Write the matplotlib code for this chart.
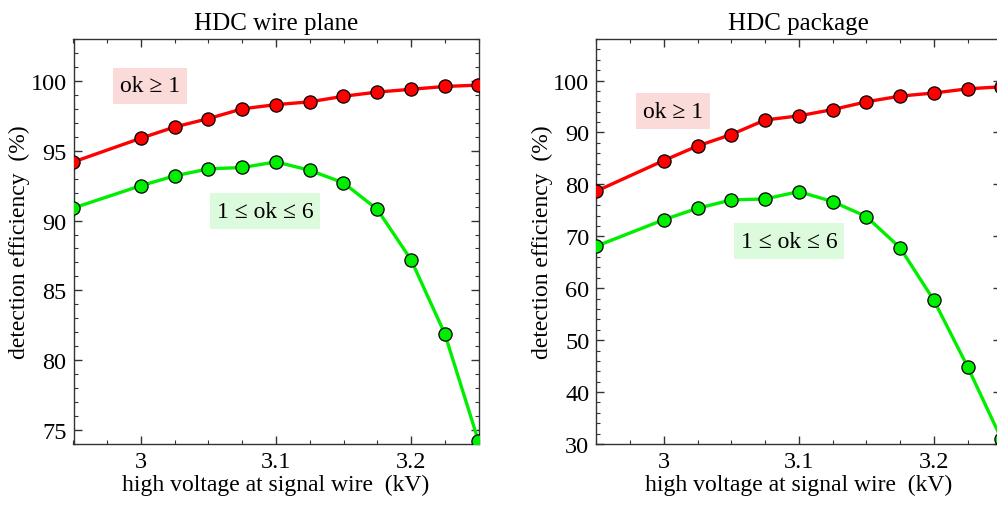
import numpy as np
import matplotlib.pyplot as plt
from matplotlib.ticker import MultipleLocator

plt.rcParams["font.family"] = ["Liberation Serif", "DejaVu Serif"]

label_fs = 17
tick_fs = 17.5
title_fs = 18
note_fs = 17

voltage = [2.95, 3.0, 3.025, 3.05, 3.075, 3.1, 3.125, 3.15, 3.175, 3.2, 3.225, 3.25]

plane_any = [94.2, 95.9, 96.7, 97.3, 98.0, 98.3, 98.5, 98.9, 99.2, 99.4, 99.6, 99.7]
plane_six = [90.9, 92.5, 93.2, 93.7, 93.8, 94.2, 93.6, 92.7, 90.8, 87.2, 81.9, 74.2]

package_any = [78.7, 84.6, 87.4, 89.6, 92.4, 93.2, 94.4, 95.9, 97.0, 97.6, 98.4, 98.8]
package_six = [68.1, 73.2, 75.4, 77.0, 77.2, 78.6, 76.7, 73.8, 67.8, 57.7, 44.9, 31.0]

red = "#ff0000"
green = "#00ee00"
pink_box = "#fbdada"
green_box = "#dcfadc"

W, H = 997, 506
fig = plt.figure(figsize=(W / 100, H / 100), dpi=100)

panels = [
    dict(title="HDC wire plane", rect=[73.5, 40, 405, 405], ylim=(74, 103),
         major=5, minor=1, any=plane_any, six=plane_six, ylab_x=30,
         note_any=(150, 87), note_six=(265, 212)),
    dict(title="HDC package", rect=[596.3, 40, 405, 405], ylim=(30, 108),
         major=10, minor=2, any=package_any, six=package_six, ylab_x=553,
         note_any=(673, 112), note_six=(789, 242)),
]

for p in panels:
    x0, y0, w, h = p["rect"]
    ax = fig.add_axes([x0 / W, (H - y0 - h) / H, w / W, h / H])

    ax.plot(voltage, p["any"], color=red, lw=2.4, marker="o", ms=9.5,
            mfc=red, mec="black", mew=0.9, zorder=3)
    ax.plot(voltage, p["six"], color=green, lw=2.4, marker="o", ms=9.5,
            mfc=green, mec="black", mew=0.9, zorder=3)

    ax.set_xlim(2.95, 3.25)
    ax.set_ylim(*p["ylim"])
    ax.xaxis.set_minor_locator(MultipleLocator(0.025))
    ax.yaxis.set_major_locator(MultipleLocator(p["major"]))
    ax.yaxis.set_minor_locator(MultipleLocator(p["minor"]))
    ax.set_xticks([3.0, 3.1, 3.2])
    ax.set_xticklabels(["3", "3.1", "3.2"])

    ax.tick_params(which="both", direction="in", top=True, right=True,
                   labelsize=tick_fs, color="#333333", pad=5)
    ax.tick_params(which="major", length=6, width=1.0)
    ax.tick_params(which="minor", length=3, width=0.8)
    for s in ax.spines.values():
        s.set_color("#333333")
        s.set_linewidth(1.0)

    ax.set_title(p["title"], fontsize=title_fs, pad=7)
    ax.set_xlabel("high voltage at signal wire  (kV)", fontsize=label_fs, labelpad=1)
    ax.set_ylabel("detection efficiency  (%)", fontsize=label_fs)
    ax.yaxis.set_label_coords((p["ylab_x"] - x0) / w, 0.5)

    nx, ny = p["note_any"]
    fig.text(nx / W, 1 - ny / H, "ok \u2265 1", fontsize=note_fs, ha="center", va="center",
             bbox=dict(boxstyle="square,pad=0.3", fc=pink_box, ec="none"))
    nx, ny = p["note_six"]
    fig.text(nx / W, 1 - ny / H, "1 \u2264 ok \u2264 6", fontsize=note_fs, ha="center", va="center",
             bbox=dict(boxstyle="square,pad=0.3", fc=green_box, ec="none"))

fig.savefig("out.png", dpi=100)
